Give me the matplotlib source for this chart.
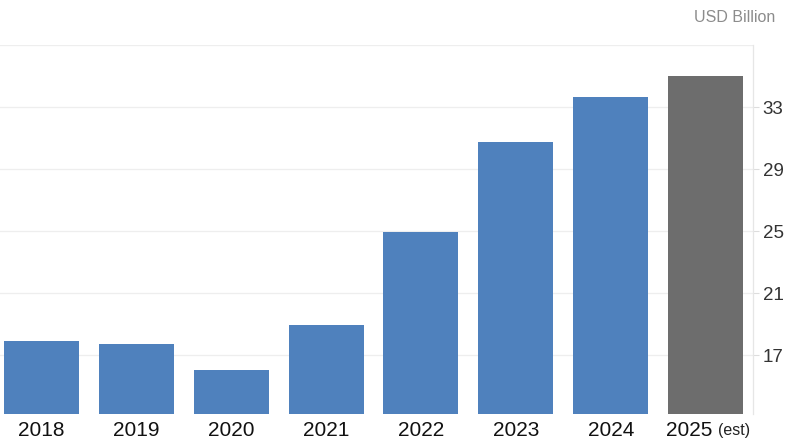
import matplotlib
matplotlib.use("Agg")
import matplotlib.pyplot as plt
from matplotlib.transforms import offset_copy, blended_transform_factory

years = ["2018", "2019", "2020", "2021", "2022", "2023", "2024", "2025"]
values = [17.9, 17.7, 16.05, 18.92, 24.92, 30.72, 33.66, 34.98]
colors = ["#4f81bd"] * 7 + ["#6d6d6d"]
yticks = [17, 21, 25, 29, 33]
unit_label = "USD Billion"
est_label = "(est)"

plt.rcParams['font.family'] = ['Liberation Sans', 'DejaVu Sans']

W, H = 792, 447
fig = plt.figure(figsize=(W / 100, H / 100), dpi=100)
ax_left, ax_right, ax_top, ax_bottom = 0, 753, 45, 414
ax = fig.add_axes([ax_left / W, 1 - ax_bottom / H, (ax_right - ax_left) / W, (ax_bottom - ax_top) / H])

x = list(range(len(years)))
ax.bar(x, values, width=0.79, color=colors, zorder=2)

ax.set_xlim(-41.5 / 95, 7.5)
ax.set_ylim(13.2, 37)

# grid
ax.set_yticks(yticks)
ax.set_yticks([37], minor=True)
ax.yaxis.tick_right()
ax.tick_params(axis='y', which='major', length=4, color='#dddddd', labelsize=13.5,
               labelcolor='#333333', pad=3)
ax.tick_params(axis='y', which='minor', length=0)
for lab in ax.get_yticklabels():
    lab.set_verticalalignment('center_baseline')
ax.grid(axis='y', which='both', color='#eeeeee', lw=0.9, zorder=0)

ax.set_xticks(x)
ax.set_xticklabels(years[:-1] + [""], fontsize=15, color='#111111')
ax.set_xticks([0, 4], minor=True)
ax.tick_params(axis='x', which='both', length=0, pad=5)
ax.grid(axis='x', which='minor', color='#eeeeee', lw=0.9, zorder=0)

for s in ['top', 'left', 'bottom']:
    ax.spines[s].set_visible(False)
ax.spines['right'].set_color('#e6e6e6')
ax.spines['right'].set_linewidth(0.9)

# last label with (est)
tr = blended_transform_factory(ax.transData, ax.transAxes)
pad_px = 5 * 100 / 72
ax.text(7, 0, years[-1], transform=offset_copy(tr, fig=fig, x=7, y=-pad_px, units='dots'),
        ha='right', va='top', fontsize=15, color='#111111')
ax.text(7, 0, est_label, transform=offset_copy(tr, fig=fig, x=12, y=-pad_px - 2, units='dots'),
        ha='left', va='top', fontsize=11.5, color='#222222')

fig.text(775 / W, 1 - 18 / H, unit_label, ha='right', va='center', fontsize=11.5, color='#8c8c8c')

fig.savefig("out.png", dpi=100)
